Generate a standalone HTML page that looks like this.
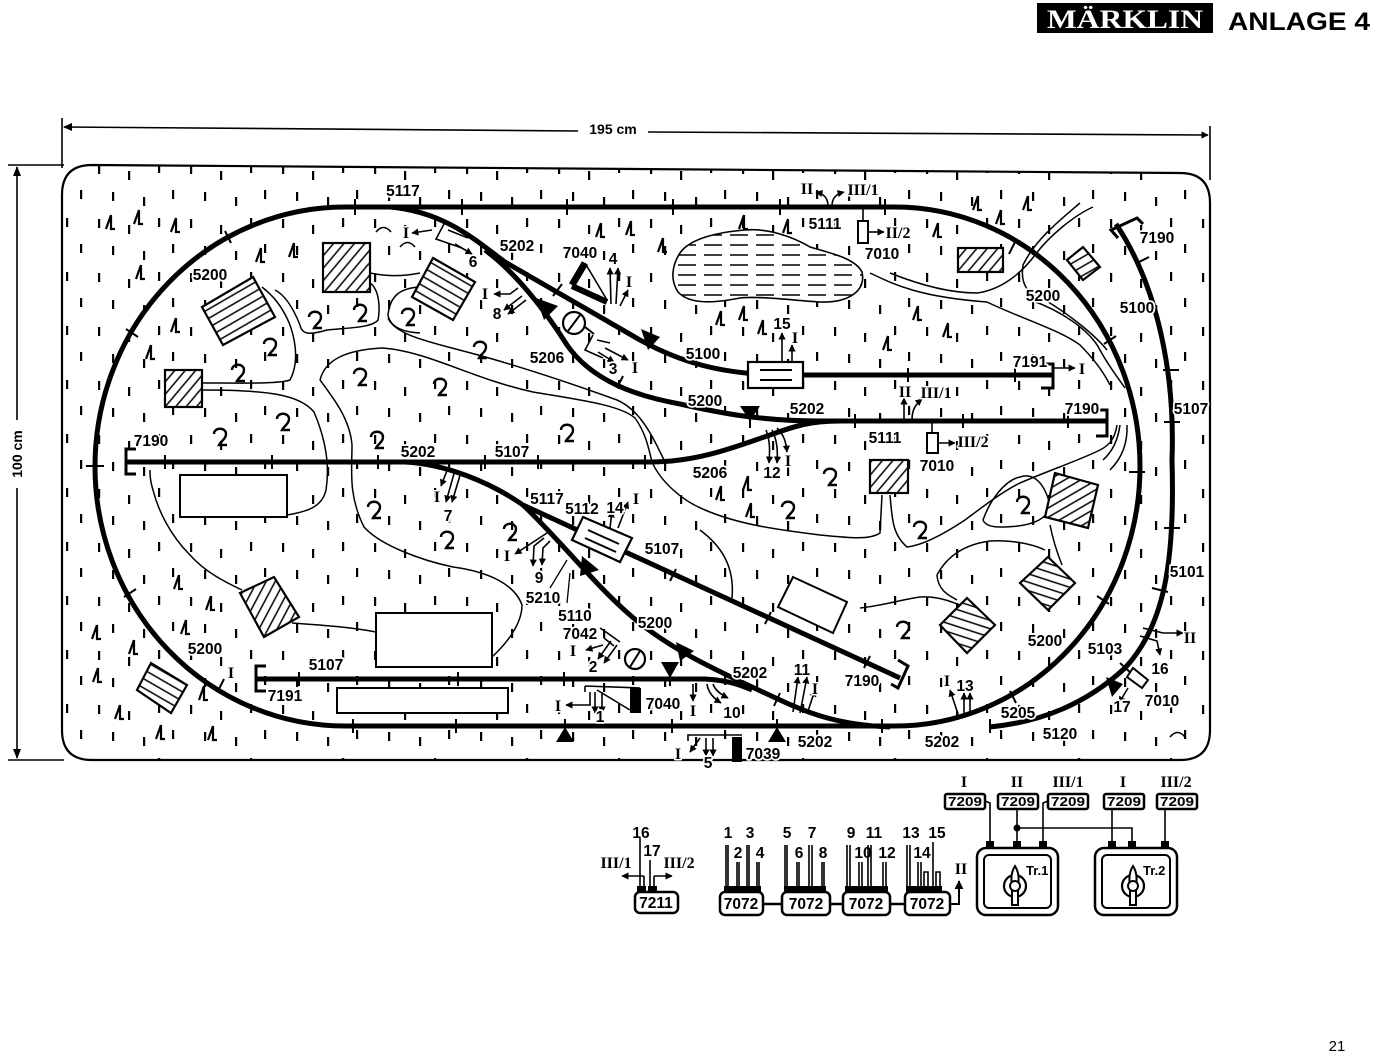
<!DOCTYPE html>
<html><head><meta charset="utf-8"><style>
html,body{margin:0;padding:0;background:#fff;}
svg{display:block;}
.t{font:bold 15.5px "Liberation Sans",sans-serif;text-anchor:middle;fill:#000;stroke:#fff;stroke-width:3.5px;paint-order:stroke;stroke-linejoin:round;}
.s{font:bold 14px "Liberation Sans",sans-serif;text-anchor:middle;fill:#000;}
.r{font:bold 16px "Liberation Serif",serif;text-anchor:middle;fill:#000;stroke:#fff;stroke-width:3px;paint-order:stroke;stroke-linejoin:round;}
.p{font:bold 15.5px "Liberation Sans",sans-serif;text-anchor:middle;fill:#000;}
.pr{font:bold 16px "Liberation Serif",serif;text-anchor:middle;fill:#000;}
.th{fill:none;stroke:#000;stroke-width:5;stroke-linejoin:round;}
.tn{fill:none;stroke:#000;stroke-width:1.5;}
.w{fill:none;stroke:#000;stroke-width:1.6;}
.tk{stroke:#000;stroke-width:2;}
</style></head><body>
<svg width="1374" height="1056" viewBox="0 0 1374 1056" xmlns="http://www.w3.org/2000/svg">
<defs>
<pattern id="grass" width="92" height="54" patternUnits="userSpaceOnUse">
<rect x="6" y="3" width="2.2" height="9" fill="#000"/>
<rect x="36" y="9" width="2.2" height="9" fill="#000"/>
<rect x="66" y="2" width="2.2" height="9" fill="#000"/>
<rect x="20" y="30" width="2.2" height="9" fill="#000"/>
<rect x="51" y="35" width="2.2" height="9" fill="#000"/>
<rect x="80" y="28" width="2.2" height="9" fill="#000"/>
</pattern>
<pattern id="water" width="26" height="10" patternUnits="userSpaceOnUse">
<line x1="2" y1="5" x2="20" y2="5" stroke="#000" stroke-width="1.6"/>
</pattern>
<pattern id="hA" width="8" height="8" patternUnits="userSpaceOnUse" patternTransform="rotate(-50)"><rect width="8" height="8" fill="#fff"/><line x1="0" y1="4" x2="8" y2="4" stroke="#000" stroke-width="1.5"/></pattern>
<pattern id="hB" width="8" height="8" patternUnits="userSpaceOnUse" patternTransform="rotate(-30)"><rect width="8" height="8" fill="#fff"/><line x1="0" y1="4" x2="8" y2="4" stroke="#000" stroke-width="1.5"/></pattern>
<pattern id="hC" width="8" height="8" patternUnits="userSpaceOnUse" patternTransform="rotate(30)"><rect width="8" height="8" fill="#fff"/><line x1="0" y1="4" x2="8" y2="4" stroke="#000" stroke-width="1.5"/></pattern>
<pattern id="hD" width="8" height="8" patternUnits="userSpaceOnUse" patternTransform="rotate(18)"><rect width="8" height="8" fill="#fff"/><line x1="0" y1="4" x2="8" y2="4" stroke="#000" stroke-width="1.5"/></pattern>
<pattern id="hE" width="8" height="8" patternUnits="userSpaceOnUse" patternTransform="rotate(-62)"><rect width="8" height="8" fill="#fff"/><line x1="0" y1="4" x2="8" y2="4" stroke="#000" stroke-width="1.5"/></pattern>
<marker id="ah" viewBox="0 0 10 10" refX="9" refY="5" markerWidth="4.5" markerHeight="4.5" orient="auto"><path d="M0,0 L10,5 L0,10 z" fill="#000"/></marker>
<g id="tr"><path d="M1,-7 L-4,7 M1,-7 L1,7 L5,7" fill="none" stroke="#000" stroke-width="2.2"/></g>
<g id="bu"><path d="M-6,-3 C-6,-10 6,-10 6,-3 C6,2 1,4 -1,8 L7,8" fill="none" stroke="#000" stroke-width="2.4"/></g>
<clipPath id="board"><path d="M92,165 L1180,173 Q1210,173 1210,203 L1210,730 Q1210,760 1180,760 L92,760 Q62,760 62,730 L62,195 Q62,165 92,165 Z"/></clipPath>
</defs>

<!-- header -->
<rect x="1037" y="3" width="176" height="30" fill="#000"/>
<text x="1125" y="28" font-family="Liberation Serif" font-weight="bold" font-size="26" fill="#fff" text-anchor="middle" textLength="156" lengthAdjust="spacingAndGlyphs">MÄRKLIN</text>
<text x="1228" y="30" font-family="Liberation Sans" font-weight="bold" font-size="25" fill="#000" textLength="142" lengthAdjust="spacingAndGlyphs">ANLAGE 4</text>

<!-- dimensions -->
<line x1="62" y1="118" x2="62" y2="168" class="w"/>
<line x1="1210" y1="126" x2="1210" y2="180" class="w"/>
<line x1="64" y1="127" x2="578" y2="131" class="w"/>
<line x1="648" y1="132" x2="1208" y2="135" class="w" marker-end="url(#ah)"/>
<path d="M72,123 L63,127 L72,131 Z" fill="#000"/>
<text x="613" y="134" class="s" font-weight="normal">195 cm</text>
<line x1="8" y1="165" x2="64" y2="165" class="w"/>
<line x1="8" y1="760" x2="64" y2="760" class="w"/>
<line x1="17" y1="167" x2="17" y2="420" class="w"/>
<line x1="17" y1="488" x2="17" y2="758" class="w"/>
<path d="M13,176 L17,166 L21,176 Z M13,749 L17,759 L21,749 Z" fill="#000"/>
<text x="0" y="0" class="s" font-weight="normal" transform="translate(22,454) rotate(-90)">100 cm</text>

<!-- board -->
<path d="M92,165 L1180,173 Q1210,173 1210,203 L1210,730 Q1210,760 1180,760 L92,760 Q62,760 62,730 L62,195 Q62,165 92,165 Z" fill="#fff" stroke="#000" stroke-width="2.2"/>
<rect x="62" y="165" width="1148" height="595" fill="url(#grass)" clip-path="url(#board)"/>

<!-- lake -->
<path d="M680,253 C690,238 720,232 745,230 C770,228 795,238 810,247 C830,253 855,258 862,272 C866,290 850,303 820,302 C790,300 760,296 740,298 C715,303 690,305 678,292 C670,280 672,265 680,253 Z" fill="#fff" stroke="#000" stroke-width="1.6"/>
<path d="M680,253 C690,238 720,232 745,230 C770,228 795,238 810,247 C830,253 855,258 862,272 C866,290 850,303 820,302 C790,300 760,296 740,298 C715,303 690,305 678,292 C670,280 672,265 680,253 Z" fill="url(#water)"/>

<!-- contour lines -->
<g class="tn">
<path d="M242,590 C225,582 205,572 190,555 C170,535 158,510 153,490 C150,480 150,475 150,470"/>
<path d="M292,623 C320,625 350,627 376,632"/>
<path d="M287,515 C305,512 322,508 326,490 C330,465 326,440 314,412 C300,395 270,390 203,390"/>
<path d="M203,383 C240,383 280,384 290,380 C298,365 297,345 290,325 C282,305 272,295 262,287"/>
<path d="M370,273 C385,276 400,277 420,273"/>
<path d="M370,283 C380,290 380,310 378,320 C372,328 345,328 327,330 C310,335 302,335 300,325 C292,305 283,294 275,290"/>
<path d="M420,287 C400,288 390,296 388,315 C390,326 400,332 420,333"/>
<path d="M388,318 C395,335 430,342 467,352 C520,366 570,383 617,400 C640,410 652,435 665,462"/>
<path d="M320,380 C325,360 345,350 383,348 C430,352 470,378 533,392 C580,400 620,405 635,418 C645,432 648,445 652,462"/>
<path d="M320,380 C335,400 350,420 352,445 C352,470 348,495 364,527 C380,545 420,560 453,567 C490,572 515,585 522,605 C522,625 505,645 492,657"/>
<path d="M652,462 C660,480 680,500 705,510 C740,525 780,530 820,535 C850,538 870,540 880,533 L882,495"/>
<path d="M890,495 C892,520 893,535 907,547 C925,545 950,530 965,520 C985,505 1005,490 1020,483 C1050,470 1080,460 1100,450 C1110,445 1115,438 1117,425"/>
<path d="M870,273 C895,285 920,297 987,302 C1020,318 1060,330 1080,345 C1095,360 1105,375 1110,385"/>
<path d="M890,273 C920,285 950,293 977,293 C1000,290 1020,275 1035,255 C1050,235 1075,215 1093,207"/>
<path d="M1080,203 C1060,220 1035,240 1023,265 C1020,285 1028,295 1045,300 C1070,315 1095,335 1107,350"/>
<path d="M983,520 C990,500 1005,480 1020,477 C1035,472 1045,485 1050,505 C1048,520 1030,527 1000,527 C992,527 985,525 983,520 Z"/>
<path d="M1050,525 C1053,540 1058,555 1062,565"/>
<path d="M937,575 C945,560 960,545 990,541 C1010,540 1030,543 1045,550"/>
<path d="M937,575 C938,590 948,595 957,600"/>
<path d="M860,608 C880,606 900,600 920,597 C935,596 948,600 962,606"/>
<path d="M700,530 C720,545 735,565 732,598"/>
<path d="M1120,425 C1118,440 1112,452 1103,460 M1127,425 C1128,448 1118,462 1110,470"/>
<path d="M1030,300 C1060,310 1090,330 1100,350 C1108,365 1118,378 1125,388"/>
</g>

<!-- houses hatched -->
<g stroke="#000" stroke-width="2.2">
<polygon points="202,307 253,277 275,317 223,345" fill="url(#hB)"/>
<rect x="165" y="370" width="37" height="37" fill="url(#hA)"/>
<rect x="323" y="243" width="47" height="49" fill="url(#hA)"/>
<polygon points="433,258 475,282 453,320 412,297" fill="url(#hC)"/>
<rect x="958" y="248" width="45" height="24" fill="url(#hA)"/>
<polygon points="1067,260 1083,247 1100,267 1083,280" fill="url(#hB)"/>
<rect x="870" y="460" width="38" height="33" fill="url(#hA)"/>
<polygon points="1055,473 1098,485 1088,528 1045,517" fill="url(#hB)"/>
<polygon points="1048,557 1075,583 1048,610 1020,583" fill="url(#hD)"/>
<polygon points="967,598 995,625 967,653 940,625" fill="url(#hD)"/>
<polygon points="240,593 274,577 299,617 264,637" fill="url(#hE)"/>
<polygon points="137,690 151,663 187,685 171,713" fill="url(#hC)"/>
</g>
<!-- plain buildings -->
<g fill="#fff" stroke="#000" stroke-width="2">
<rect x="180" y="475" width="107" height="42"/>
<rect x="376" y="613" width="116" height="54"/>
<rect x="337" y="688" width="171" height="25"/>
<polygon points="793,577 847,602 833,633 778,607"/>
</g>

<!-- trees -->
<g>
<use href="#tr" x="110" y="222"/><use href="#tr" x="138" y="217"/><use href="#tr" x="175" y="225"/>
<use href="#tr" x="140" y="272"/><use href="#tr" x="260" y="255"/><use href="#tr" x="293" y="250"/>
<use href="#tr" x="175" y="325"/><use href="#tr" x="150" y="352"/>
<use href="#tr" x="600" y="230"/><use href="#tr" x="630" y="228"/><use href="#tr" x="662" y="245"/>
<use href="#tr" x="743" y="222"/><use href="#tr" x="787" y="226"/><use href="#tr" x="720" y="318"/>
<use href="#tr" x="743" y="313"/><use href="#tr" x="762" y="327"/><use href="#tr" x="917" y="313"/>
<use href="#tr" x="947" y="330"/><use href="#tr" x="887" y="343"/><use href="#tr" x="937" y="230"/>
<use href="#tr" x="977" y="203"/><use href="#tr" x="1027" y="203"/><use href="#tr" x="1000" y="217"/>
<use href="#tr" x="720" y="493"/><use href="#tr" x="747" y="483"/><use href="#tr" x="750" y="510"/>
<use href="#tr" x="178" y="582"/><use href="#tr" x="210" y="603"/><use href="#tr" x="185" y="627"/>
<use href="#tr" x="96" y="632"/><use href="#tr" x="133" y="647"/><use href="#tr" x="97" y="675"/>
<use href="#tr" x="203" y="693"/><use href="#tr" x="119" y="712"/><use href="#tr" x="160" y="732"/>
<use href="#tr" x="212" y="733"/>
</g>
<!-- bushes -->
<g>
<use href="#bu" x="315" y="320"/><use href="#bu" x="360" y="313"/><use href="#bu" x="408" y="317"/>
<use href="#bu" x="270" y="347"/><use href="#bu" x="238" y="373"/><use href="#bu" x="283" y="422"/>
<use href="#bu" x="220" y="437"/><use href="#bu" x="360" y="377"/><use href="#bu" x="377" y="440"/>
<use href="#bu" x="480" y="350"/><use href="#bu" x="440" y="387"/><use href="#bu" x="567" y="433"/>
<use href="#bu" x="374" y="510"/><use href="#bu" x="447" y="540"/><use href="#bu" x="510" y="532"/>
<use href="#bu" x="830" y="477"/><use href="#bu" x="788" y="510"/><use href="#bu" x="920" y="530"/>
<use href="#bu" x="903" y="630"/><use href="#bu" x="1023" y="505"/>
</g>

<!-- tracks -->
<path class="th" d="M345,207 L895,207 A245,259.5 0 0 1 895,726 L345,726 A250,259.5 0 0 1 345,207 Z"/>
<path class="th" d="M1116,224 C1160,290 1175,380 1172,460 C1175,560 1165,625 1125,668 C1085,705 1040,722 990,727"/>
<path class="th" d="M390,207 C445,212 475,240 505,262 L640,340 C680,362 720,374 780,375 L1053,375"/>
<path class="th" d="M485,250 C515,272 545,310 567,345 C590,378 630,395 680,404 C720,413 760,421 820,421 L1107,421"/>
<path class="th" d="M126,462 L650,462 C700,462 740,445 770,435 C795,426 810,421 840,421"/>
<path class="th" d="M405,462 C445,464 490,482 523,505 L900,678"/>
<path class="th" d="M523,505 C560,540 595,585 630,615 C670,650 720,672 780,700 C810,714 840,725 890,727"/>
<path class="th" d="M256,679 L705,679 C725,680 738,684 752,690"/>

<!-- bumpers -->
<g fill="none" stroke="#000" stroke-width="3">
<path d="M136,449 L126,449 L126,474 L136,474"/>
<path d="M266,666 L256,666 L256,691 L266,691"/>
<path d="M1045,364 L1053,364 L1053,388 L1041,388"/>
<path d="M1098,410 L1107,410 L1107,436 L1096,436"/>
<path d="M898,660 L908,666 L898,688 L891,684"/>
<path d="M1118,238 L1111,230 L1137,218 L1143,224"/>
</g>

<!-- track joint ticks -->
<g class="tk">
<path d="M355,199V215M462,199V215M567,199V215M673,199V215M780,199V215M885,199V215"/>
<path d="M165,455V469M272,455V469M378,455V469M485,455V469M538,455V469M645,455V469"/>
<path d="M750,414V428M855,414V428M963,414V428M1068,414V428"/>
<path d="M908,368V382M1015,368V382"/>
<path d="M353,719V733M456,719V733M565,719V733M672,719V733M777,719V733M882,719V733M990,719V733"/>
<path d="M299,672V686M458,672V686M564,672V686M670,672V686"/>
<path d="M225,231L231,243M126,329L138,337M86,466L104,466M124,597L136,589M218,691L224,679"/>
<path d="M1009,254L1015,242M1104,344L1116,336M1129,472L1145,472M1097,596L1109,604M1010,691L1016,703"/>
<path d="M1137,263L1149,257M1163,370L1179,370M1164,422L1180,422M1164,528L1180,528M1152,588L1168,592M1120,663L1131,673"/>
<path d="M670,581L676,569M765,624L771,612M864,668L870,656M617,388L623,376M774,706L780,693M553,296L562,284"/>
</g>

<!-- signal triangles -->
<g fill="#000">
<polygon points="536,298 558,306 544,320"/>
<polygon points="641,329 660,337 648,350"/>
<polygon points="740,406 760,406 750,421"/>
<polygon points="582,556 599,570 580,576"/>
<polygon points="676,642 694,651 680,661"/>
<polygon points="661,662 679,662 670,678"/>
<polygon points="556,742 574,742 565,727"/>
<polygon points="768,742 786,742 777,727"/>
<polygon points="1106,677 1123,684 1112,697"/>
</g>

<!-- uncouplers -->
<g fill="#fff" stroke="#000" stroke-width="2.2">
<rect x="748" y="362" width="55" height="26"/>
<polygon points="583,517 632,538 620,562 572,540"/>
</g>
<g class="tk">
<path d="M760,370H792M760,380H792"/>
<path d="M588,530L619,544M585,538L616,552"/>
</g>

<!-- small components & wiring -->
<g class="w" stroke-width="1.6">
<path d="M444,224 L436,239 L462,248 M448,230 L468,238"/>
<path d="M432,230 L412,233" marker-end="url(#ah)"/>
<path d="M455,244 L472,254" marker-end="url(#ah)"/>
<path d="M376,232 C381,226 386,226 391,232 M400,247 C405,241 410,241 415,247"/>
<path d="M585,263 L607,300"/>
<path d="M611,304 L610,268" marker-end="url(#ah)"/>
<path d="M616,304 L618,268" marker-end="url(#ah)"/>
<path d="M620,306 L628,290" marker-end="url(#ah)"/>
<path d="M518,288 L510,294 L494,294" marker-end="url(#ah)"/>
<path d="M522,296 L504,310" marker-end="url(#ah)"/>
<path d="M526,300 L508,314" marker-end="url(#ah)"/>
<circle cx="574" cy="323" r="11" stroke-width="2.2" fill="#fff"/>
<path d="M568,331 L580,315 M585,327 L594,334" stroke-width="2"/>
<path d="M593,335 L585,350 L603,358 M597,340 L610,343"/>
<path d="M598,352 L614,362" marker-end="url(#ah)"/>
<path d="M605,348 L628,360" marker-end="url(#ah)"/>
<path d="M782,362 L782,333" marker-end="url(#ah)"/>
<path d="M792,362 L792,345" marker-end="url(#ah)"/>
<path d="M828,206 C828,198 824,194 816,192" marker-end="url(#ah)"/>
<path d="M832,206 C832,198 836,194 844,192" marker-end="url(#ah)"/>
<line x1="863" y1="207" x2="863" y2="221"/>
<rect x="858" y="221" width="10" height="22" stroke-width="2" fill="#fff"/>
<path d="M868,232 L884,232" marker-end="url(#ah)"/>
<path d="M904,420 L904,398" marker-end="url(#ah)"/>
<path d="M912,420 C912,410 915,405 922,399" marker-end="url(#ah)"/>
<line x1="932" y1="421" x2="932" y2="433"/>
<rect x="927" y="433" width="11" height="20" stroke-width="2" fill="#fff"/>
<path d="M938,443 L955,443" marker-end="url(#ah)"/>
<path d="M766,430 C770,440 770,450 769,463" marker-end="url(#ah)"/>
<path d="M772,430 C777,440 778,450 777,463" marker-end="url(#ah)"/>
<path d="M777,428 C784,435 786,442 787,452" marker-end="url(#ah)"/>
<path d="M1053,368 L1075,368" marker-end="url(#ah)"/>
<path d="M448,468 L441,486" marker-end="url(#ah)"/>
<path d="M455,470 L446,502" marker-end="url(#ah)"/>
<path d="M461,472 L452,502" marker-end="url(#ah)"/>
<path d="M610,528 L612,511" marker-end="url(#ah)"/>
<path d="M618,528 L628,502" marker-end="url(#ah)"/>
<path d="M547,533 L515,554" marker-end="url(#ah)"/>
<path d="M544,538 L534,546 L533,566" marker-end="url(#ah)"/>
<path d="M550,541 L543,548 L542,565" marker-end="url(#ah)"/>
<path d="M550,588 L567,560 M567,603 L570,573" stroke-width="1.3"/>
<path d="M600,628 L606,632 L620,642 M604,638 L614,646"/>
<circle cx="635" cy="659" r="10" stroke-width="2.2" fill="#fff"/>
<path d="M630,667 L640,651" stroke-width="2"/>
<path d="M603,645 L586,650" marker-end="url(#ah)"/>
<path d="M611,641 L598,659" marker-end="url(#ah)"/>
<path d="M617,645 L604,663" marker-end="url(#ah)"/>
<path d="M585,686 L585,692 M585,686 L640,688 M597,690 L630,710"/>
<path d="M590,692 L590,705 L566,705" marker-end="url(#ah)"/>
<path d="M595,692 L595,713" marker-end="url(#ah)"/>
<path d="M602,692 L602,713" marker-end="url(#ah)"/>
<path d="M693,684 L693,701" marker-end="url(#ah)"/>
<path d="M707,684 C708,692 713,698 721,703" marker-end="url(#ah)"/>
<path d="M713,684 C715,690 720,694 728,698" marker-end="url(#ah)"/>
<path d="M688,741 L688,735 L742,735"/>
<path d="M700,738 L690,752" marker-end="url(#ah)"/>
<path d="M706,738 L706,756" marker-end="url(#ah)"/>
<path d="M713,738 L713,756" marker-end="url(#ah)"/>
<path d="M793,712 L798,677" marker-end="url(#ah)"/>
<path d="M800,713 L807,677" marker-end="url(#ah)"/>
<path d="M807,714 L815,690" marker-end="url(#ah)"/>
<path d="M958,714 L950,690" marker-end="url(#ah)"/>
<path d="M964,714 L964,693" marker-end="url(#ah)"/>
<path d="M970,712 L970,693" marker-end="url(#ah)"/>
<path d="M1143,628 L1163,633 L1183,633" marker-end="url(#ah)"/>
<path d="M1140,636 L1157,641 L1160,655" marker-end="url(#ah)"/>
<polygon points="1127,677 1133,668 1148,680 1142,688" stroke-width="2" fill="#fff"/>
<path d="M1128,688 L1119,703" marker-end="url(#ah)"/>
<path d="M1170,737 C1175,731 1180,731 1185,737"/>
</g>
<g fill="#000">
<path d="M572,285 L585,263" stroke="#000" stroke-width="7"/>
<path d="M572,286 L607,302" stroke="#000" stroke-width="6"/>
<rect x="630" y="688" width="11" height="25"/>
<rect x="732" y="737" width="10" height="25"/>
</g>

<!-- labels -->
<g class="t">
<text x="403" y="196">5117</text>
<text x="517" y="251">5202</text>
<text x="580" y="258">7040</text>
<text x="613" y="264">4</text>
<text x="473" y="267">6</text>
<text x="497" y="319">8</text>
<text x="547" y="363">5206</text>
<text x="613" y="374">3</text>
<text x="782" y="329">15</text>
<text x="703" y="359">5100</text>
<text x="705" y="406">5200</text>
<text x="825" y="229">5111</text>
<text x="882" y="259">7010</text>
<text x="1157" y="243">7190</text>
<text x="1043" y="301">5200</text>
<text x="1137" y="313">5100</text>
<text x="1030" y="367">7191</text>
<text x="807" y="414">5202</text>
<text x="1082" y="414">7190</text>
<text x="1191" y="414">5107</text>
<text x="885" y="443">5111</text>
<text x="937" y="471">7010</text>
<text x="772" y="478">12</text>
<text x="710" y="478">5206</text>
<text x="151" y="446">7190</text>
<text x="418" y="457">5202</text>
<text x="512" y="457">5107</text>
<text x="448" y="521">7</text>
<text x="547" y="504">5117</text>
<text x="582" y="514">5112</text>
<text x="615" y="513">14</text>
<text x="662" y="554">5107</text>
<text x="539" y="583">9</text>
<text x="543" y="603">5210</text>
<text x="575" y="621">5110</text>
<text x="655" y="628">5200</text>
<text x="580" y="639">7042</text>
<text x="593" y="672">2</text>
<text x="750" y="678">5202</text>
<text x="802" y="675">11</text>
<text x="862" y="686">7190</text>
<text x="663" y="709">7040</text>
<text x="600" y="722">1</text>
<text x="732" y="718">10</text>
<text x="708" y="768">5</text>
<text x="763" y="759">7039</text>
<text x="815" y="747">5202</text>
<text x="942" y="747">5202</text>
<text x="965" y="691">13</text>
<text x="205" y="654">5200</text>
<text x="210" y="280">5200</text>
<text x="326" y="670">5107</text>
<text x="285" y="701">7191</text>
<text x="1045" y="646">5200</text>
<text x="1187" y="577">5101</text>
<text x="1105" y="654">5103</text>
<text x="1160" y="674">16</text>
<text x="1122" y="712">17</text>
<text x="1162" y="706">7010</text>
<text x="1018" y="718">5205</text>
<text x="1060" y="739">5120</text>
</g>
<g class="r">
<text x="406" y="238">I</text>
<text x="629" y="287">I</text>
<text x="485" y="299">I</text>
<text x="635" y="373">I</text>
<text x="795" y="343">I</text>
<text x="807" y="194">II</text>
<text x="863" y="195">III/1</text>
<text x="898" y="238">II/2</text>
<text x="1082" y="374">I</text>
<text x="905" y="397">II</text>
<text x="936" y="398">III/1</text>
<text x="973" y="447">III/2</text>
<text x="788" y="466">I</text>
<text x="437" y="502">I</text>
<text x="636" y="504">I</text>
<text x="507" y="561">I</text>
<text x="573" y="656">I</text>
<text x="815" y="694">I</text>
<text x="558" y="711">I</text>
<text x="693" y="716">I</text>
<text x="678" y="759">I</text>
<text x="947" y="686">I</text>
<text x="231" y="678">I</text>
<text x="1190" y="643">II</text>
</g>

<!-- control panel -->
<g fill="#fff" stroke="#000" stroke-width="2.5">
<rect x="635" y="892" width="43" height="21" rx="5"/>
<rect x="720" y="892" width="43" height="23" rx="5"/>
<rect x="782" y="892" width="48" height="23" rx="5"/>
<rect x="843" y="892" width="47" height="23" rx="5"/>
<rect x="905" y="892" width="45" height="23" rx="5"/>
</g>
<g class="w" stroke-width="1.5">
<path d="M640,892V838M644,892V876M650,892V860M654,892V876"/>
<path d="M644,876H622" marker-end="url(#ah)"/>
<path d="M654,876H672" marker-end="url(#ah)"/>
<path d="M726,892V845M728,892V845M737,892V862M739,892V862M747,892V845M749,892V845M757,892V862M759,892V862"/>
<path d="M785,892V845M787,892V845M797,892V862M799,892V862M809,892V845M812,892V845M822,892V862M824,892V862"/>
<path d="M847,892V845M850,892V845M859,892V862M862,892V862M868,892V845M871,892V845M883,892V862M886,892V862"/>
<path d="M907,892V845M910,892V845M918,892V862M921,892V862M924,892V872L928,872L928,892M933,892V842M936,892V872L940,872L940,892"/>
<path d="M763,904H782M830,904H843M890,904H905" stroke-width="2.5"/>
<path d="M950,904H959V881" stroke-width="2" marker-end="url(#ah)"/>
</g>
<g fill="#000">
<rect x="637" y="886" width="9" height="6"/><rect x="648" y="886" width="9" height="6"/>
<rect x="724" y="886" width="37" height="6"/><rect x="784" y="886" width="42" height="6"/>
<rect x="845" y="886" width="43" height="6"/><rect x="906" y="886" width="36" height="6"/>
</g>
<g class="p" font-size="15">
<text x="656" y="908">7211</text>
<text x="741" y="909">7072</text>
<text x="806" y="909">7072</text>
<text x="866" y="909">7072</text>
<text x="927" y="909">7072</text>
</g>
<g class="p">
<text x="641" y="838">16</text><text x="652" y="856">17</text>
<text x="728" y="838">1</text><text x="738" y="858">2</text><text x="750" y="838">3</text><text x="760" y="858">4</text>
<text x="787" y="838">5</text><text x="799" y="858">6</text><text x="812" y="838">7</text><text x="823" y="858">8</text>
<text x="851" y="838">9</text><text x="863" y="858">10</text><text x="874" y="838">11</text><text x="887" y="858">12</text>
<text x="911" y="838">13</text><text x="922" y="858">14</text><text x="937" y="838">15</text>
</g>
<g class="pr">
<text x="616" y="868">III/1</text>
<text x="679" y="868">III/2</text>
<text x="961" y="874">II</text>
<text x="964" y="787">I</text>
<text x="1017" y="787">II</text>
<text x="1068" y="787">III/1</text>
<text x="1123" y="787">I</text>
<text x="1176" y="787">III/2</text>
</g>
<g fill="#fff" stroke="#000" stroke-width="2.5">
<rect x="945" y="794" width="40" height="15" rx="2"/>
<rect x="998" y="794" width="40" height="15" rx="2"/>
<rect x="1048" y="794" width="40" height="15" rx="2"/>
<rect x="1104" y="794" width="40" height="15" rx="2"/>
<rect x="1157" y="794" width="40" height="15" rx="2"/>
</g>
<g font-family="Liberation Sans" font-weight="bold" font-size="13" fill="#000">
<text x="948" y="806" textLength="34" lengthAdjust="spacingAndGlyphs">7209</text>
<text x="1001" y="806" textLength="34" lengthAdjust="spacingAndGlyphs">7209</text>
<text x="1051" y="806" textLength="34" lengthAdjust="spacingAndGlyphs">7209</text>
<text x="1107" y="806" textLength="34" lengthAdjust="spacingAndGlyphs">7209</text>
<text x="1160" y="806" textLength="34" lengthAdjust="spacingAndGlyphs">7209</text>
</g>
<g class="w" stroke-width="1.8">
<path d="M985,801 L990,803 L990,845"/>
<path d="M1017,809 L1017,845"/>
<path d="M1048,801 L1043,803 L1043,845"/>
<path d="M1017,828 L1132,828 L1132,845"/>
<path d="M1112,809 L1112,845"/>
<path d="M1165,809 L1165,845"/>
</g>
<g fill="#000">
<circle cx="1017" cy="828" r="3.5"/>
<rect x="986" y="841" width="8" height="8"/><rect x="1013" y="841" width="8" height="8"/><rect x="1039" y="841" width="8" height="8"/>
<rect x="1108" y="841" width="8" height="8"/><rect x="1128" y="841" width="8" height="8"/><rect x="1161" y="841" width="8" height="8"/>
</g>
<g fill="#fff" stroke="#000">
<rect x="977" y="848" width="81" height="67" rx="9" stroke-width="2.5"/>
<rect x="984" y="855" width="67" height="53" rx="5" stroke-width="2"/>
<rect x="1095" y="848" width="82" height="67" rx="9" stroke-width="2.5"/>
<rect x="1102" y="855" width="68" height="53" rx="5" stroke-width="2"/>
<circle cx="1015" cy="886" r="11" stroke-width="2.2"/>
<path d="M1015,866 C1019,872 1019,880 1018,886 L1018,905 L1012,905 L1012,886 C1011,880 1011,872 1015,866 Z" stroke-width="2"/>
<circle cx="1015" cy="886" r="5" stroke-width="2"/>
<circle cx="1133" cy="886" r="11" stroke-width="2.2"/>
<path d="M1133,866 C1137,872 1137,880 1136,886 L1136,905 L1130,905 L1130,886 C1129,880 1129,872 1133,866 Z" stroke-width="2"/>
<circle cx="1133" cy="886" r="5" stroke-width="2"/>
</g>
<g font-family="Liberation Sans" font-weight="bold" font-size="13" fill="#000">
<text x="1026" y="875">Tr.1</text>
<text x="1143" y="875">Tr.2</text>
</g>

<text x="1337" y="1051" font-family="Liberation Sans" font-size="15" fill="#000" text-anchor="middle">21</text>
</svg>
</body></html>
